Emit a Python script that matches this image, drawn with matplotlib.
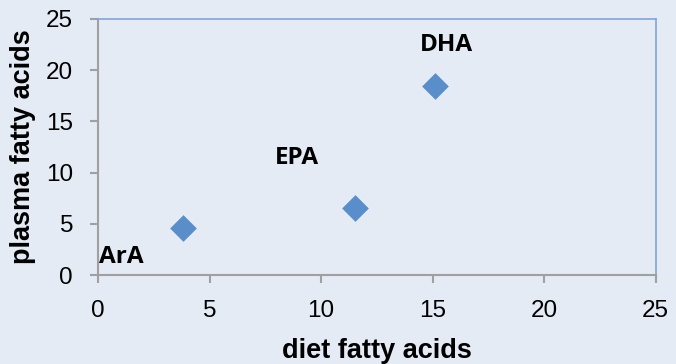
import matplotlib
matplotlib.use("Agg")
import matplotlib.pyplot as plt

# Fatty acid levels: diet vs plasma
names = ["ArA", "EPA", "DHA"]
diet = [3.8, 11.5, 15.1]
plasma = [4.6, 6.5, 18.5]
label_x = [1.05, 8.9, 15.6]
label_y = [1.75, 11.4, 22.5]

bg = "#E4EBF5"
fig = plt.figure(figsize=(6.76, 3.64), dpi=100, facecolor=bg)
ax = fig.add_axes([0.145, 0.2445, 0.825, 0.7035], facecolor=bg)

ax.scatter(diet, plasma, marker="D", s=185, color="#5A8ECB", zorder=3, linewidths=0)
for n, x, y in zip(names, label_x, label_y):
    ax.text(x, y, n, ha="center", va="center", fontsize=17.5, fontweight="bold",
            family="Open Sans", color="black")

ax.set_xlim(0, 25)
ax.set_ylim(0, 25)
ax.set_xticks(range(0, 26, 5))
ax.set_yticks(range(0, 26, 5))
for s in ("left", "bottom"):
    ax.spines[s].set_color("#A0A0A0")
    ax.spines[s].set_linewidth(1.5)
for s in ("top", "right"):
    ax.spines[s].set_color("#7EA6D8")
    ax.spines[s].set_linewidth(1.2)
ax.tick_params(direction="out", length=6, width=1.5, color="#A0A0A0",
               labelsize=17.5, pad=12)
for lab in ax.get_xticklabels() + ax.get_yticklabels():
    lab.set_family("Liberation Sans")

ax.set_xlabel("diet fatty acids", fontsize=19.5, fontweight="bold",
              family="Liberation Sans")
ax.set_ylabel("plasma fatty acids", fontsize=19.5, fontweight="bold",
              family="Liberation Sans")
ax.xaxis.set_label_coords(0.5, -0.297)
ax.yaxis.set_label_coords(-0.134, 0.5)
ax.xaxis.label.set_va("center")
ax.yaxis.label.set_va("center")

fig.savefig("out.png", dpi=100, facecolor=bg)
